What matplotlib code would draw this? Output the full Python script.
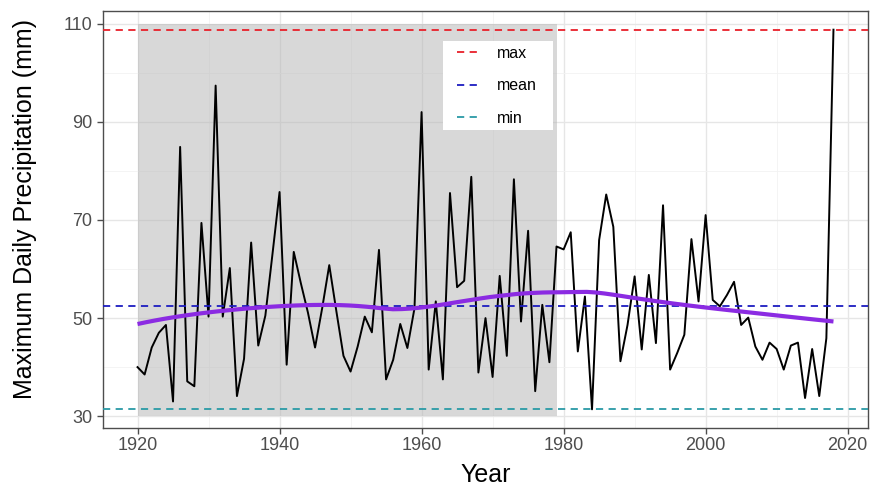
import numpy as np
import matplotlib
matplotlib.use('Agg')
import matplotlib.pyplot as plt
from matplotlib.patches import Rectangle

plt.rcParams['font.family'] = ['Liberation Sans', 'DejaVu Sans']

years = np.arange(1920, 2019)
max_precip = [
    40.0, 38.5, 44.0, 47.0, 48.6, 33.0, 84.9, 37.1, 36.1, 69.4,
    50.3, 97.4, 50.3, 60.2, 34.1, 41.7, 65.4, 44.4, 50.5, 63.0,
    75.7, 40.5, 63.5, 57.1, 51.1, 44.0, 52.0, 60.8, 51.4, 42.3,
    39.1, 44.2, 50.3, 47.1, 63.9, 37.5, 41.5, 48.8, 43.9, 52.0,
    92.0, 39.5, 53.4, 37.5, 75.5, 56.3, 57.6, 78.8, 38.9, 50.0,
    38.0, 58.6, 42.3, 78.3, 49.3, 67.8, 35.1, 52.7, 41.0, 64.6,
    64.0, 67.5, 43.2, 54.4, 31.4, 65.9, 75.2, 68.6, 41.2, 48.6,
    58.5, 43.6, 58.8, 44.9, 73.0, 39.5, 42.9, 46.6, 66.1, 53.4,
    71.0, 53.7, 52.4, 54.7, 57.4, 48.6, 50.1, 44.2, 41.5, 45.0,
    43.7, 39.5, 44.4, 45.0, 33.7, 43.7, 34.1, 45.9, 108.8,
]

# shaded reference period
period_start, period_end = 1920, 1979
period_low, period_high = 30, 110

y_breaks = [30, 50, 70, 90, 110]
x_breaks = [1920, 1940, 1960, 1980, 2000, 2020]


def loess(x, y, span=0.75, n_out=80):
    """ Local quadratic regression with tricube weights (as in R's loess) """
    x = np.asarray(x, dtype=float)
    y = np.asarray(y, dtype=float)
    q = int(np.floor(len(x) * span))
    grid = np.linspace(x.min(), x.max(), n_out)
    fitted = []
    for x0 in grid:
        dist = np.abs(x - x0)
        d = np.sort(dist)[q - 1]
        w = np.clip(1 - (dist / d) ** 3, 0, None) ** 3
        X = np.column_stack([np.ones_like(x), x - x0, (x - x0) ** 2])
        W = np.sqrt(w)
        coef, *_ = np.linalg.lstsq(X * W[:, None], y * W, rcond=None)
        fitted.append(coef[0])
    return grid, np.array(fitted)


def main():
    values = np.array(max_precip)
    fig = plt.figure(figsize=(8.75, 4.91), dpi=100)
    ax = fig.add_axes([0.1174, 0.1277, 0.8749, 0.8505])

    ax.add_patch(Rectangle((period_start, period_low), period_end - period_start,
                           period_high - period_low, facecolor='#b3b3b3', alpha=0.5,
                           edgecolor='none', zorder=1))

    ax.plot(years, values, color='black', lw=1.4, zorder=2)

    dash = (0, (4, 3))
    ax.axhline(values.max(), color='#e8202a', lw=1.3, ls=dash, label='max', zorder=3)
    ax.axhline(values.mean(), color='#1c1cc0', lw=1.3, ls=dash, label='mean', zorder=3)
    ax.axhline(values.min(), color='#2a9aa6', lw=1.3, ls=dash, label='min', zorder=3)

    gx, gy = loess(years, values)
    ax.plot(gx, gy, color='#8b2be2', lw=3.0, zorder=4, solid_capstyle='butt')

    # theme_bw-ish look
    x_pad = (years.max() - years.min()) * 0.05
    y_pad = (values.max() - values.min()) * 0.05
    ax.set_xlim(years.min() - x_pad, years.max() + x_pad)
    ax.set_ylim(values.min() - y_pad, values.max() + y_pad)
    ax.set_xticks(x_breaks)
    ax.set_yticks(y_breaks)
    ax.set_xticks([1930, 1950, 1970, 1990, 2010], minor=True)
    ax.set_yticks([40, 60, 80, 100], minor=True)
    ax.grid(which='major', color='#e6e6e6', lw=1.0, zorder=0)
    ax.grid(which='minor', color='#f2f2f2', lw=0.6, zorder=0)
    ax.set_axisbelow(True)
    for s in ax.spines.values():
        s.set_color('#4d4d4d')
        s.set_linewidth(1.0)
    ax.tick_params(which='major', length=4, width=1.0, color='#4d4d4d',
                   labelcolor='#4d4d4d', labelsize=13)
    ax.tick_params(axis='x', which='major', pad=2.5)
    ax.tick_params(axis='y', which='major', pad=3.5)
    ax.tick_params(which='minor', length=0)

    ax.set_xlabel('Year', fontsize=18, labelpad=6)
    ax.set_ylabel('Maximum Daily Precipitation (mm)', fontsize=18, labelpad=19)
    ax.yaxis.label.set_y(0.525)

    # white legend box behind the keys
    ax.add_patch(Rectangle((0.4441, 0.7143), 0.1437, 0.2139, transform=ax.transAxes,
                           facecolor='white', edgecolor='none', zorder=5))
    leg = ax.legend(loc='upper left', bbox_to_anchor=(0.4624, 0.916), frameon=False,
                    fontsize=11.5, handlelength=1.45, labelspacing=1.1,
                    borderpad=0, handletextpad=1.05, borderaxespad=0)
    leg.set_zorder(6)

    fig.savefig('out.png', dpi=100)


if __name__ == "__main__":
    main()
